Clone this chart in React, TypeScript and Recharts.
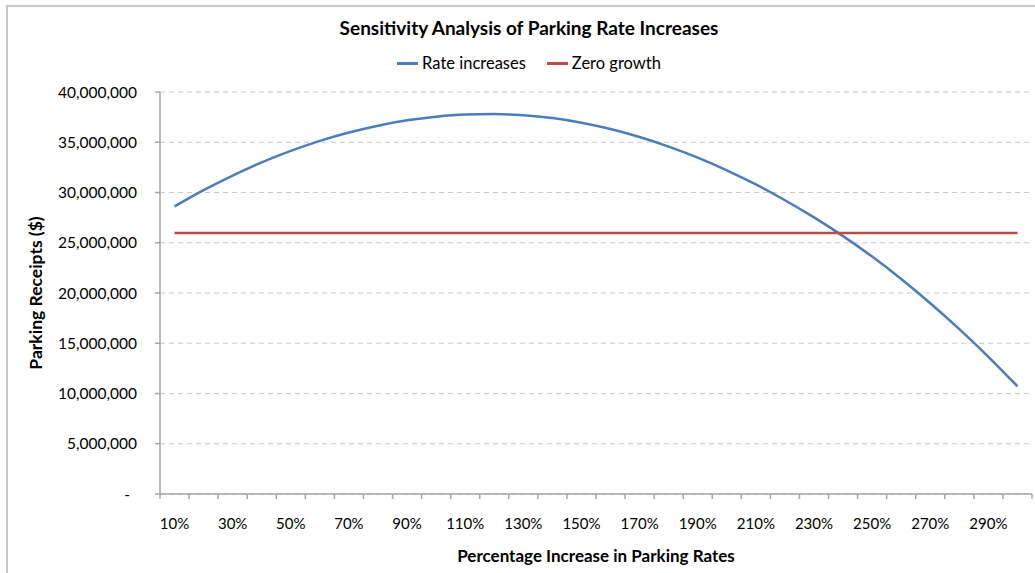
import React from 'react';
import { LineChart, Line, XAxis, YAxis, CartesianGrid, Legend } from 'recharts';

const categories = [10, 20, 30, 40, 50, 60, 70, 80, 90, 100, 110, 120, 130, 140, 150, 160, 170, 180, 190, 200, 210, 220, 230, 240, 250, 260, 270, 280, 290, 300];

const rateIncreases = [
  28620000, 30240000, 31690000, 33000000, 34140000, 35140000, 35970000, 36650000, 37180000, 37540000,
  37750000, 37800000, 37690000, 37410000, 36950000, 36320000, 35520000, 34570000, 33470000, 32210000,
  30800000, 29230000, 27520000, 25660000, 23620000, 21390000, 18980000, 16400000, 13650000, 10710000,
];

const zeroGrowth = [
  25970000, 25970000, 25970000, 25970000, 25970000, 25970000, 25970000, 25970000, 25970000, 25970000,
  25970000, 25970000, 25970000, 25970000, 25970000, 25970000, 25970000, 25970000, 25970000, 25970000,
  25970000, 25970000, 25970000, 25970000, 25970000, 25970000, 25970000, 25970000, 25970000, 25970000,
];

const xTickLabels = ['10%', '30%', '50%', '70%', '90%', '110%', '130%', '150%', '170%', '190%', '210%', '230%', '250%', '270%', '290%'];

const yTicks = [0, 5000000, 10000000, 15000000, 20000000, 25000000, 30000000, 35000000, 40000000];

const data = categories.map((c, i) => ({ pct: c, rate: rateIncreases[i], zero: zeroGrowth[i] }));

const halfStep = (categories[1] - categories[0]) / 2;
const boundaries = categories.map((c) => c - halfStep).concat([categories[categories.length - 1] + halfStep]);
const labelValues = xTickLabels.map((s) => parseInt(s, 10));
const xTicks = [...boundaries, ...labelValues].sort((a, b) => a - b);

const FONT = 'Lato, "Open Sans", "DejaVu Sans", sans-serif';
const AXIS = '#a6a6a6';
const BLUE = '#4a7ebb';
const RED = '#be4b48';

function XTick(props: any) {
  const { x, y, payload } = props;
  const v = payload.value;
  if (boundaries.includes(v)) {
    return <line x1={x} x2={x} y1={y} y2={y + 5} stroke={AXIS} strokeWidth={1.5} />;
  }
  return (
    <text x={x} y={y + 29} textAnchor="middle" dominantBaseline="central" fontFamily={FONT} fontSize={15} fill="#000">
      {v}%
    </text>
  );
}

function YTick(props: any) {
  const { x, y, payload } = props;
  const v = payload.value as number;
  const label = v === 0 ? '-' : v.toLocaleString('en-US');
  return (
    <text x={v === 0 ? x - 7 : x} y={y} dy="0.355em" textAnchor="end" fontFamily={FONT} fontSize={15.5} fill="#000">
      {label}
    </text>
  );
}

function YLabel(props: any) {
  const vb = props.viewBox || { x: 0, y: 92, width: 160, height: 402 };
  const cx = vb.x + 35;
  const cy = vb.y + vb.height / 2;
  return (
    <text x={cx} y={cy} transform={`rotate(-90 ${cx} ${cy})`} textAnchor="middle" dominantBaseline="central" fontFamily={FONT} fontSize={17.5} fontWeight="bold" fill="#000">
      Parking Receipts ($)
    </text>
  );
}

function LegendContent(props: any) {
  const items = props.payload || [];
  return (
    <div style={{ height: 42, width: 1058, display: 'flex', justifyContent: 'center', alignItems: 'flex-start' }}>
      {items.map((it: any, i: number) => (
        <div key={i} style={{ display: 'flex', alignItems: 'center', height: 26, marginLeft: i === 0 ? 0 : 21, fontFamily: FONT, fontSize: 16.5, color: '#000' }}>
          <span style={{ display: 'inline-block', width: 21, height: 3, background: it.color, marginRight: 4 }} />
          <span>{it.value}</span>
        </div>
      ))}
    </div>
  );
}

export default function App() {
  return (
    <div style={{ position: 'absolute', left: 0, top: 0, width: 1035, height: 573, overflow: 'hidden', background: '#fff' }}>
      <div style={{ position: 'absolute', left: 6, top: 5, width: 1100, height: 700, border: '2px solid #c8c8c8', boxSizing: 'border-box' }} />
      <div style={{ position: 'absolute', left: 0, top: 16, width: 1058, textAlign: 'center', fontFamily: FONT, fontSize: 19, fontWeight: 'bold', color: '#000', lineHeight: '24px' }}>
        Sensitivity Analysis of Parking Rate Increases
      </div>
      <div style={{ position: 'absolute', left: 0, top: 0 }}>
        <LineChart width={1035} height={573} data={data} margin={{ top: 50, right: 3, bottom: 0, left: 0 }}>
          <CartesianGrid horizontal vertical={false} stroke="#c9c9c9" strokeDasharray="5 4" />
          <XAxis
            dataKey="pct"
            type="number"
            domain={[boundaries[0], boundaries[boundaries.length - 1]]}
            ticks={xTicks}
            interval={0}
            tick={<XTick />}
            tickLine={false}
            tickSize={0}
            tickMargin={0}
            axisLine={{ stroke: AXIS, strokeWidth: 1.5 }}
            height={79}
            label={{ value: 'Percentage Increase in Parking Rates', position: 'insideBottom', offset: 11, style: { fontFamily: FONT, fontSize: 17, fontWeight: 'bold', fill: '#000' } }}
          />
          <YAxis
            type="number"
            domain={[0, 40000000]}
            ticks={yTicks}
            interval={0}
            width={160}
            tick={<YTick />}
            tickSize={5}
            tickMargin={18}
            tickLine={{ stroke: AXIS, strokeWidth: 1.5 }}
            axisLine={{ stroke: AXIS, strokeWidth: 1.5 }}
            label={<YLabel />}
          />
          <Legend verticalAlign="top" align="center" content={<LegendContent />} wrapperStyle={{ left: 0, width: 1058 }} />
          <Line name="Rate increases" type="monotone" dataKey="rate" stroke={BLUE} strokeWidth={2.5} dot={false} activeDot={false} isAnimationActive={false} />
          <Line name="Zero growth" type="monotone" dataKey="zero" stroke={RED} strokeWidth={2.5} dot={false} activeDot={false} isAnimationActive={false} />
        </LineChart>
      </div>
    </div>
  );
}
